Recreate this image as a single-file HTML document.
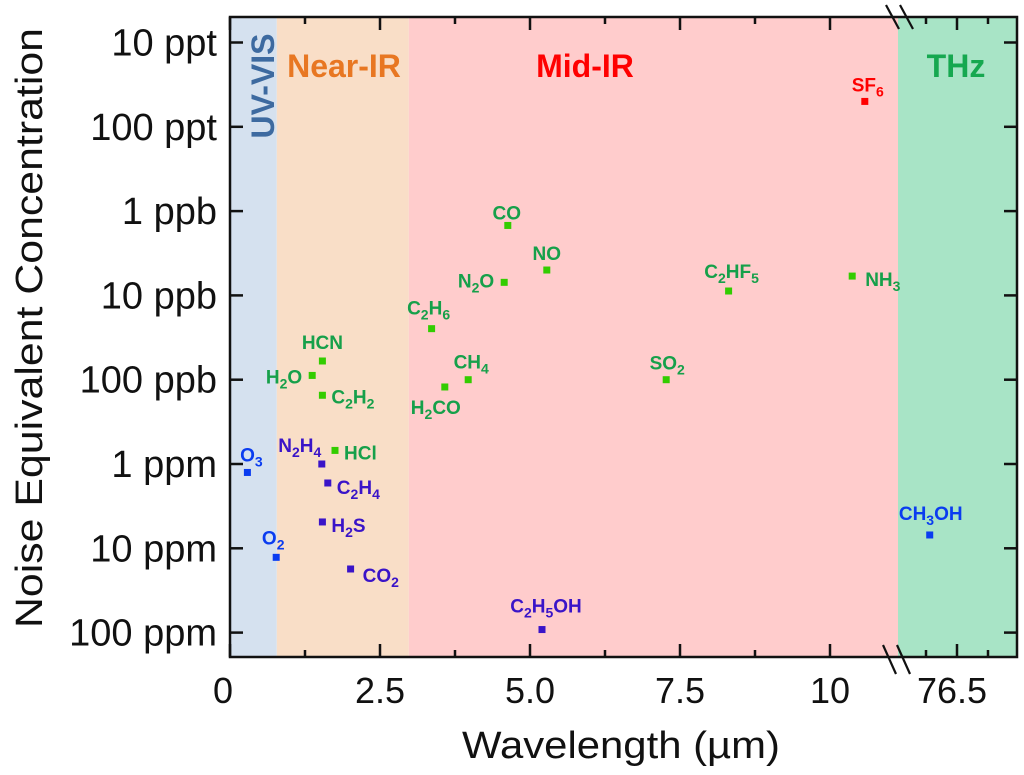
<!DOCTYPE html>
<html><head><meta charset="utf-8"><style>
body{margin:0;background:#fff}
svg{display:block}
text{font-family:"Liberation Sans",sans-serif}
</style></head><body>
<svg id="chart" width="1024" height="775" viewBox="0 0 1024 775" xmlns="http://www.w3.org/2000/svg"></svg>
<script>
// ---- data ----
const gases = ["HCN","H2O","C2H2","HCl","N2H4","O3","C2H4","H2S","O2","CO2","CO","NO","N2O","C2H6","CH4","H2CO","SO2","SF6","C2HF5","NH3","C2H5OH","CH3OH"];
const labelsMarkup = ["HCN","H_2O","C_2H_2","HCl","N_2H_4","O_3","C_2H_4","H_2S","O_2","CO_2","CO","NO","N_2O","C_2H_6","CH_4","H_2CO","SO_2","SF_6","C_2HF_5","NH_3","C_2H_5OH","CH_3OH"];
const wavelengths = [1.54,1.37,1.54,1.75,1.53,0.29,1.63,1.54,0.77,2.01,4.63,5.28,4.57,3.36,3.97,3.58,7.27,10.58,8.31,10.37,5.2,76.06];
const concentrationsPpm = [0.06,0.089,0.153,0.69,1.0,1.26,1.68,4.87,12.8,17.6,0.00148,0.005,0.007,0.0248,0.1,0.122,0.1,0.00005,0.00887,0.0059,92,6.95];
const groups = ["g","g","g","g","i","b","i","i","b","i","g","g","g","g","g","g","g","r","g","g","i","b"];
const yTickValues = [1e-5,1e-4,1e-3,1e-2,1e-1,1,10,100];
const yTickLabels = ["10 ppt","100 ppt","1 ppb","10 ppb","100 ppb","1 ppm","10 ppm","100 ppm"];
const xTickValues = [0,2.5,5.0,7.5,10];
const xTickLabels = ["0","2.5","5.0","7.5","10"];
const xTickValuesTHz = [76.5];
const xTickLabelsTHz = ["76.5"];
const regions = ["UV-VIS","Near-IR","Mid-IR","THz"];
const regionBounds = [[0,0.78],[0.78,2.98],[2.98,11.1],[null,null]];

// ---- style / layout ----
const L=230,R=1017,T=17,B=657,BRK=898;
const labelOffsets = [[0,-18,"middle"],[-10,2,"end"],[9,2,"start"],[9,3,"start"],[-22,-18,"middle"],[4,-17,"middle"],[9,5,"start"],[9,4,"start"],[-3,-19,"middle"],[12,7,"start"],[-1,-12,"middle"],[0,-16,"middle"],[-10,-1,"end"],[-3,-20,"middle"],[3,-17,"middle"],[-9,21,"middle"],[1,-16,"middle"],[3,-16,"middle"],[3,-19,"middle"],[13,4,"start"],[4,-23,"middle"],[1,-21,"middle"]];
const markerCol={g:"#33cc00",b:"#0a3cf0",i:"#3a14c8",r:"#ff0000"};
const textCol={g:"#16a04a",b:"#0a3cf0",i:"#3a14c8",r:"#ff0000"};
const regionFill=["#d5e1ef","#f9dec7","#ffcccc","#a8e4c6"];
const regionText=["#3d6aa0","#e87722","#ff0000","#16a850"];

function xScale(v){ return v>50 ? 957+(v-76.5)*62 : L+v*60; }
function yScale(v){ return 464+84.3*Math.log10(v); }

const svg=document.getElementById('chart');
const NS="http://www.w3.org/2000/svg";
function el(tag,attrs,parent){const e=document.createElementNS(NS,tag);for(const k in attrs)e.setAttribute(k,attrs[k]);(parent||svg).appendChild(e);return e;}

// regions
const rx=[[L,xScale(regionBounds[0][1])],[xScale(regionBounds[1][0]),xScale(regionBounds[1][1])],[xScale(regionBounds[2][0]),BRK],[BRK,R]];
rx.forEach((r,i)=>{
  const rect=el('rect',{x:r[0],y:T,width:r[1]-r[0],height:B-T,fill:regionFill[i]});
  
  
});
// region titles
let t=el('text',{x:0,y:0,transform:"translate(274,86) rotate(-90)","text-anchor":"middle","font-size":32,"font-weight":"bold",fill:regionText[0]});
t.textContent=regions[0];


[[344,"Near-IR"],[585,"Mid-IR"],[956,"THz"]].forEach((p,k)=>{
  const tt=el('text',{x:p[0],y:77,"text-anchor":"middle","font-size":32,"font-weight":"bold",fill:regionText[k+1]});
  tt.textContent=p[1];
  
  
});

// axes frame
const frame=el('path',{d:`M${L},${T}H${R}V${B}H${L}Z`,fill:"none",stroke:"#111","stroke-width":2.5});



// y ticks
yTickValues.forEach((v,i)=>{
  const y=yScale(v);
  el('line',{x1:L,x2:L+13,y1:y,y2:y,stroke:"#111","stroke-width":2.5});
  el('line',{x1:R-13,x2:R,y1:y,y2:y,stroke:"#111","stroke-width":2.5});
  const lb=el('text',{x:217,y:y+13,"text-anchor":"end","font-size":38,fill:"#111"});
  lb.textContent=yTickLabels[i];
  
  
});
// x ticks
function xTick(x,len){
  el('line',{x1:x,x2:x,y1:B,y2:B-len,stroke:"#111","stroke-width":2.5});
  el('line',{x1:x,x2:x,y1:T,y2:T+len,stroke:"#111","stroke-width":2.5});
}
xTickValues.forEach((v,i)=>{
  const x=xScale(v);
  xTick(x,13);
  if(v+1.25<11) xTick(xScale(v+1.25),7);
  const lb=el('text',{x:i==0?x-7:x,y:703,"text-anchor":"middle","font-size":36,fill:"#111"});
  lb.textContent=xTickLabels[i];
  
  
});
xTickValuesTHz.forEach((v,i)=>{
  const x=xScale(v);
  xTick(x,13); xTick(xScale(v-0.5),7); xTick(xScale(v+0.5),7);
  const lb=el('text',{x:x-5,y:703,"text-anchor":"middle","font-size":36,fill:"#111"});
  lb.textContent=xTickLabelsTHz[i];
  
  
});
// axis breaks
[0,14].forEach(o=>{
  el('line',{x1:886+o,y1:5,x2:899+o,y2:29,stroke:"#111","stroke-width":2.2});
  el('line',{x1:883+o,y1:645,x2:896+o,y2:674,stroke:"#111","stroke-width":2.2});
});

// axis titles
const yt=el('text',{x:0,y:0,transform:"translate(42,328) rotate(-90)","text-anchor":"middle","font-size":38,textLength:600,lengthAdjust:"spacingAndGlyphs",fill:"#111"});
yt.textContent="Noise Equivalent Concentration";


const xt=el('text',{x:621,y:758,"text-anchor":"middle","font-size":38,textLength:318,lengthAdjust:"spacingAndGlyphs",fill:"#111"});
xt.textContent="Wavelength (µm)";



// points
gases.forEach((g,i)=>{
  const x=xScale(wavelengths[i]), y=yScale(concentrationsPpm[i]);
  const m=el('rect',{x:x-3.5,y:y-3.5,width:7,height:7,fill:markerCol[groups[i]]});
  
  
  const o=labelOffsets[i];
  const tx=el('text',{x:x+o[0],y:y+o[1]+6,"text-anchor":o[2],"font-size":19,"font-weight":"bold",fill:textCol[groups[i]]});
  
  
  const parts=labelsMarkup[i].split(/(_\d)/).filter(s=>s);
  let sub=false;
  parts.forEach(p=>{
    const ts=document.createElementNS(NS,'tspan');
    if(p[0]=="_"){ts.textContent=p.slice(1);ts.setAttribute('font-size',14);ts.setAttribute('dy',5);sub=true;}
    else{ts.textContent=p;if(sub){ts.setAttribute('dy',-5);sub=false;}}
    tx.appendChild(ts);
  });
});
</script>
</body></html>
